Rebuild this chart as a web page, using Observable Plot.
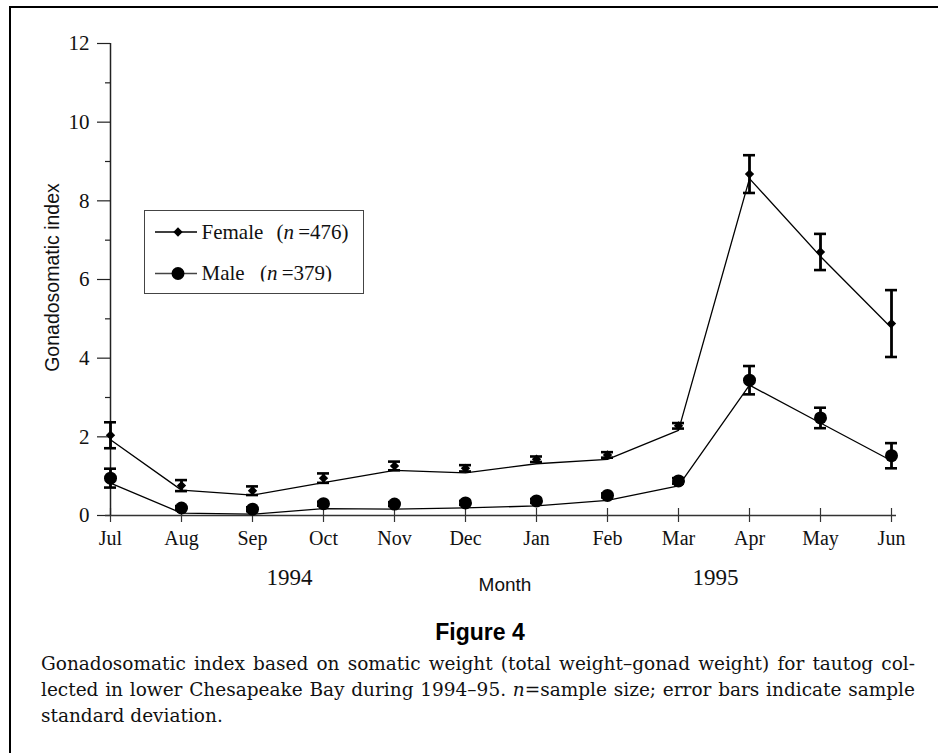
<!DOCTYPE html>
<html>
<head>
<meta charset="utf-8">
<script src="https://cdn.jsdelivr.net/npm/d3@7"></script>
<script src="https://cdn.jsdelivr.net/npm/@observablehq/plot@0.6"></script>
<style>
  html, body { margin: 0; padding: 0; background: #fff; }
  #fig { position: relative; width: 938px; height: 753px; overflow: hidden; background: #fff; }
  #frameTop { position: absolute; left: 9px; top: 6px; width: 929px; height: 2px; background: #000; }
  #frameLeft { position: absolute; left: 9px; top: 6px; width: 2px; height: 747px; background: #000; }
  #chart { position: absolute; left: 0; top: 0; }
  #legend { position: absolute; left: 0; top: 0; }
  #figTitle { position: absolute; left: 380px; top: 621px; width: 200px; text-align: center;
    font-family: "Liberation Sans", Arial, sans-serif; font-weight: bold; font-size: 23px; line-height: 23px; color: #000; }
  #caption { position: absolute; left: 41px; top: 651px; width: 874px;
    font-family: "DejaVu Serif", serif; font-size: 17px; line-height: 26px; color: #111; }
  #caption .j { text-align: justify; text-align-last: justify; white-space: nowrap; }
  #caption .l { text-align: left; white-space: nowrap; }
</style>
</head>
<body>
<div id="fig">
  <div id="chart"></div>
  <div id="frameTop"></div>
  <div id="frameLeft"></div>
  <svg id="legend" width="938" height="600"></svg>
  <div id="figTitle">Figure 4</div>
  <div id="caption">
    <div class="j" id="cap1">Gonadosomatic index based on somatic weight (total weight–gonad weight) for tautog col-</div>
    <div class="j" id="cap2">lected in lower Chesapeake Bay during 1994–95. <i>n</i>=sample size; error bars indicate sample</div>
    <div class="l">standard deviation.</div>
  </div>
</div>
<script>
// ---- data ----
const months = ["Jul", "Aug", "Sep", "Oct", "Nov", "Dec", "Jan", "Feb", "Mar", "Apr", "May", "Jun"];
const femaleMean = [2.04, 0.76, 0.63, 0.95, 1.26, 1.20, 1.43, 1.54, 2.28, 8.68, 6.70, 4.88];
const femaleSD   = [0.33, 0.14, 0.11, 0.12, 0.11, 0.08, 0.07, 0.07, 0.07, 0.48, 0.46, 0.85];
const maleMean   = [0.95, 0.19, 0.16, 0.30, 0.29, 0.32, 0.37, 0.51, 0.88, 3.44, 2.48, 1.52];
const maleSD     = [0.24, 0.05, 0.05, 0.05, 0.05, 0.05, 0.05, 0.05, 0.07, 0.36, 0.26, 0.32];
const yMajorTicks = [0, 2, 4, 6, 8, 10, 12];
const yMinorTicks = [0, 1, 2, 3, 4, 5, 6, 7, 8, 9, 10, 11, 12];
const yearLabels = ["1994", "1995"];
const yearUnderMonth = ["Oct", "Apr"];
const xTitle = "Month";
const yTitle = "Gonadosomatic index";
const seriesNames = ["Female", "Male"];
const seriesN = [476, 379];

const data = months.map((m, i) => ({
  month: m,
  f: femaleMean[i], fLo: femaleMean[i] - femaleSD[i], fHi: femaleMean[i] + femaleSD[i],
  m: maleMean[i], mLo: maleMean[i] - maleSD[i], mHi: maleMean[i] + maleSD[i]
}));
const years = yearLabels.map((t, i) => ({label: t, month: yearUnderMonth[i]}));

const serif = "'Liberation Serif', 'Times New Roman', serif";
const sans = "'Liberation Sans', Arial, sans-serif";

const chart = Plot.plot({
  width: 938,
  height: 600,
  marginLeft: 105,
  marginRight: 42,
  marginTop: 43,
  marginBottom: 85,
  x: {type: "point", domain: months, padding: 0},
  y: {domain: [0, 12]},
  style: {fontFamily: serif, background: "transparent", color: "#000", overflow: "visible"},
  marks: [
    // axes
    Plot.axisY({ticks: yMajorTicks, tickSize: 8, tickPadding: 8, fontSize: 21, label: null, stroke: "#222", strokeWidth: 1.2, fill: "#111"}),
    Plot.axisY({ticks: yMinorTicks, tickSize: 5, dx: 5, tickFormat: () => "", label: null, stroke: "#222", strokeWidth: 1.2}),
    Plot.axisX({tickSize: 0, tickPadding: 15, fontSize: 20, label: null, fill: "#111"}),
    Plot.axisX({tickSize: 14, dy: -7, tickFormat: () => "", label: null, stroke: "#333", strokeWidth: 1.2}),
    Plot.ruleY([0], {stroke: "#333", strokeWidth: 1.5}),
    Plot.ruleX([months[0]], {stroke: "#222", strokeWidth: 1.5}),
    // axis titles
    Plot.text([xTitle], {frameAnchor: "bottom", lineAnchor: "middle", dx: 4, dy: 69, fontFamily: sans, fontSize: 19, fill: "#111"}),
    Plot.text([yTitle], {frameAnchor: "left", textAnchor: "middle", lineAnchor: "middle", dx: -53, dy: -2, rotate: -90, fontFamily: sans, fontSize: 19.5, fill: "#111"}),
    Plot.text(years, {x: "month", text: "label", frameAnchor: "bottom", lineAnchor: "middle", dx: -34, dy: 62, fontSize: 23, fill: "#111"}),
    // connecting lines
    Plot.line(data, {x: "month", y: "f", dy: 4.5, stroke: "#000", strokeWidth: 1.3}),
    Plot.line(data, {x: "month", y: "m", dy: 5, stroke: "#000", strokeWidth: 1.3}),
    // error bars, female
    Plot.ruleX(data, {x: "month", y1: "fLo", y2: "fHi", stroke: "#000", strokeWidth: 2.8}),
    Plot.ruleY(data, {y: "fHi", x1: "month", x2: "month", insetLeft: -6, insetRight: -6, stroke: "#000", strokeWidth: 2.6}),
    Plot.ruleY(data, {y: "fLo", x1: "month", x2: "month", insetLeft: -6, insetRight: -6, stroke: "#000", strokeWidth: 2.6}),
    // error bars, male
    Plot.ruleX(data, {x: "month", y1: "mLo", y2: "mHi", stroke: "#000", strokeWidth: 2.8}),
    Plot.ruleY(data, {y: "mHi", x1: "month", x2: "month", insetLeft: -6, insetRight: -6, stroke: "#000", strokeWidth: 2.6}),
    Plot.ruleY(data, {y: "mLo", x1: "month", x2: "month", insetLeft: -6, insetRight: -6, stroke: "#000", strokeWidth: 2.6}),
    // markers
    Plot.dot(data, {x: "month", y: "f", symbol: "diamond2", r: 4.2, fill: "#000", stroke: "none"}),
    Plot.dot(data, {x: "month", y: "m", symbol: "circle", r: 6.5, fill: "#000", stroke: "none"})
  ]
});
document.getElementById("chart").appendChild(chart);

// ---- legend ----
const lg = d3.select("#legend");
lg.append("defs").append("clipPath").attr("id", "maleClip")
  .append("rect").attr("x", 0).attr("y", 0).attr("width", 938).attr("height", 281.5);
lg.append("rect").attr("x", 144.5).attr("y", 210.5).attr("width", 219).attr("height", 83)
  .attr("fill", "#fff").attr("stroke", "#444").attr("stroke-width", 1);
// female row
lg.append("line").attr("x1", 155).attr("x2", 197).attr("y1", 232).attr("y2", 232).attr("stroke", "#000").attr("stroke-width", 1.3);
lg.append("path").attr("d", d3.symbol(d3.symbolDiamond2, Math.PI * 4.2 * 4.2)()).attr("transform", "translate(178,232)").attr("fill", "#000");
const ft = lg.append("text").attr("x", 201.5).attr("y", 239).attr("font-family", serif).attr("font-size", 21).attr("fill", "#111");
ft.append("tspan").text(seriesNames[0]);
ft.append("tspan").attr("x", 276.5).text("(");
ft.append("tspan").attr("font-style", "italic").text("n");
ft.append("tspan").text("\u2009=" + seriesN[0] + ")");
// male row
lg.append("line").attr("x1", 155).attr("x2", 197).attr("y1", 273.5).attr("y2", 273.5).attr("stroke", "#444").attr("stroke-width", 1.3);
lg.append("circle").attr("cx", 178).attr("cy", 273.5).attr("r", 6.5).attr("fill", "#000");
const mt = lg.append("text").attr("x", 201.5).attr("y", 279.5).attr("font-family", serif).attr("font-size", 21).attr("fill", "#111").attr("clip-path", "url(#maleClip)");
mt.append("tspan").text(seriesNames[1]);
mt.append("tspan").attr("x", 260).text("(");
mt.append("tspan").attr("font-style", "italic").text("n");
mt.append("tspan").text("\u2009=" + seriesN[1] + ")");

// ---- fit caption font so both justified lines fit the column ----
(function fitCaption() {
  const cap = document.getElementById("caption");
  const ctx = document.createElement("canvas").getContext("2d");
  ctx.font = "17px 'DejaVu Serif'";
  const w = Math.max(
    ctx.measureText(document.getElementById("cap1").textContent).width,
    ctx.measureText(document.getElementById("cap2").textContent).width
  );
  const size = Math.min(20, 17 * 864 / w);
  cap.style.fontSize = size.toFixed(2) + "px";
})();
</script>
</body>
</html>
